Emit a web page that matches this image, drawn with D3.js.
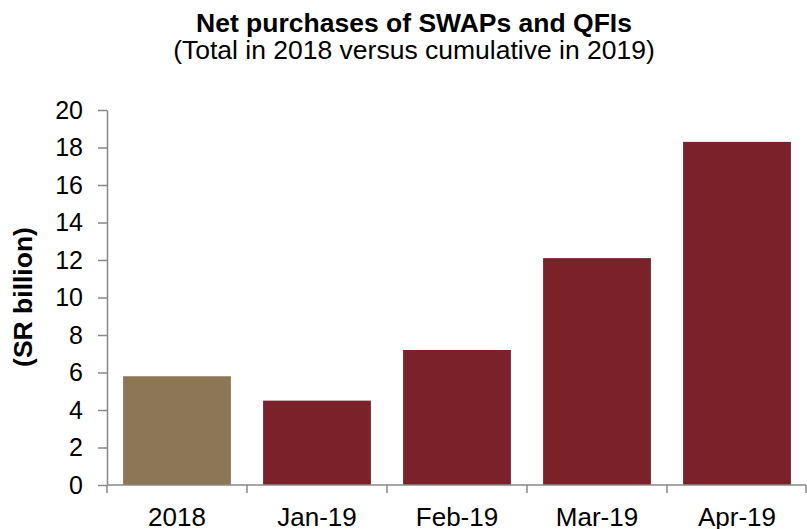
<!DOCTYPE html>
<html><head><meta charset="utf-8">
<script src="https://cdn.jsdelivr.net/npm/d3@7/dist/d3.min.js"></script>
<style>body{margin:0;background:#fff}svg{display:block;font-family:"Liberation Sans",Arial,sans-serif}</style>
</head><body><svg id="c" width="807" height="529"></svg>
<script>
const categories = ["2018","Jan-19","Feb-19","Mar-19","Apr-19"];
const values = [5.8, 4.5, 7.2, 12.1, 18.3];
const barColors = ["#8B7755","#7B2129","#7B2129","#7B2129","#7B2129"];
const yTicks = [0,2,4,6,8,10,12,14,16,18,20];

const svg = d3.select("#c");
const x = d3.scaleBand().domain(categories).range([107,807]).paddingInner(0.23).paddingOuter(0.115);
const y = d3.scaleLinear().domain([0,20]).range([485,110]);

svg.selectAll("rect.bar").data(values).enter().append("rect")
  .attr("x",(d,i)=>x(categories[i])).attr("width",x.bandwidth())
  .attr("y",d=>y(d)).attr("height",d=>y(0)-y(d))
  .attr("fill",(d,i)=>barColors[i]);

const yAxis = svg.append("g").attr("transform","translate(107,0)")
  .call(d3.axisLeft(y).tickValues(yTicks).tickSize(9).tickPadding(15).tickSizeOuter(0));
yAxis.select(".domain").attr("stroke","#888").attr("stroke-width",1.5);
yAxis.selectAll(".tick line").attr("stroke","#888").attr("stroke-width",1.5);
yAxis.selectAll("text").attr("font-size",25).attr("fill","#000").attr("font-family","Liberation Sans, Arial, sans-serif");

// x axis with ticks at band boundaries
const xg = svg.append("g").attr("transform","translate(0,485)");
xg.append("line").attr("x1",107).attr("x2",806).attr("stroke","#888").attr("stroke-width",1.5);
const bounds = d3.range(categories.length+1).map(i=>107+i*x.step());
xg.selectAll("line.t").data(bounds).enter().append("line")
  .attr("x1",d=>Math.min(d,806)).attr("x2",d=>Math.min(d,806)).attr("y1",0).attr("y2",8)
  .attr("stroke","#888").attr("stroke-width",1.5);
xg.selectAll("text").data(categories).enter().append("text")
  .attr("x",d=>x(d)+x.bandwidth()/2).attr("y",41)
  .attr("text-anchor","middle").attr("font-size",26).text(d=>d);

svg.append("text").attr("x",414).attr("y",32).attr("text-anchor","middle")
  .attr("font-size",26.5).attr("font-weight","bold").text("Net purchases of SWAPs and QFIs");
svg.append("text").attr("x",414).attr("y",59).attr("text-anchor","middle")
  .attr("font-size",26.5).text("(Total in 2018 versus cumulative in 2019)");
svg.append("text").attr("transform","translate(32,297) rotate(-90)").attr("text-anchor","middle")
  .attr("font-size",26.5).attr("font-weight","bold").text("(SR billion)");
</script></body></html>
